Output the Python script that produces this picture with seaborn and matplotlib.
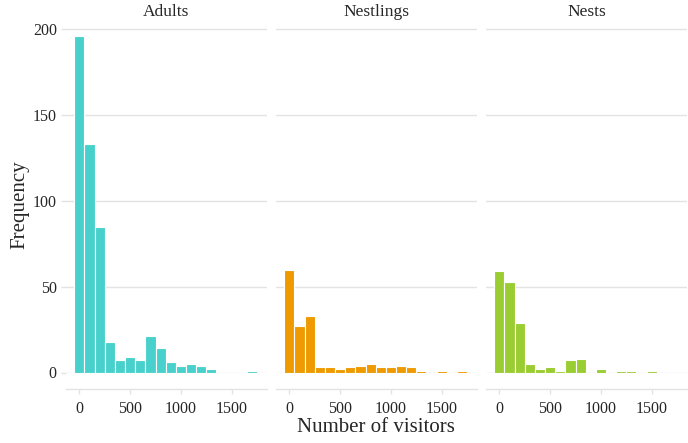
import numpy as np
import pandas as pd
import matplotlib
matplotlib.use("Agg")
import matplotlib.pyplot as plt
import seaborn as sns

# ---- data (bin centers, width 100) ----
bin_centers = [0, 100, 200, 300, 400, 500, 600, 700, 800, 900,
               1000, 1100, 1200, 1300, 1400, 1500, 1600, 1700]
adults = [196, 133, 85, 18, 7, 9, 7, 21, 14, 6, 4, 5, 4, 2, 0, 0, 0, 1]
nestlings = [60, 27, 33, 3, 3, 2, 3, 4, 5, 3, 3, 4, 3, 1, 0, 1, 0, 1]
nests = [59, 53, 29, 5, 2, 3, 1, 7, 8, 0, 2, 0, 1, 1, 0, 1, 0, 0]
groups = ["Adults", "Nestlings", "Nests"]
colors = ["#48D1CC", "#EE9A00", "#9ACD32"]
x_ticks = [0, 500, 1000, 1500]
y_ticks = [0, 50, 100, 150, 200]

df = pd.concat([
    pd.DataFrame({"group": g, "visitors": bin_centers, "count": v})
    for g, v in zip(groups, [adults, nestlings, nests])
], ignore_index=True)

sns.set_theme(style="white")
plt.rcParams["font.family"] = ["Liberation Serif", "DejaVu Serif"]

W, H = 688, 443
fig = plt.figure(figsize=(W / 100, H / 100), dpi=100)

grid_c = "#e3e3e3"
text_c = "#262626"

lefts = [66, 276, 486]
pw = 200.7
top_px, zero_px = 20, 372.5

for i, (g, c) in enumerate(zip(groups, colors)):
    ax = fig.add_axes([lefts[i] / W, (H - zero_px) / H, pw / W, (zero_px - top_px) / H])
    sub = df[df["group"] == g]
    sns.histplot(data=sub, x="visitors", weights="count", binwidth=100,
                 binrange=(-50, 1750),
                 color=c, alpha=1, edgecolor="white", linewidth=0.8, ax=ax)
    ax.set_xlim(-131, 1844)
    ax.set_ylim(0, 205.5)
    ax.set_yticks(y_ticks)
    ax.set_xticks(x_ticks)
    ax.yaxis.grid(True, color=grid_c, linewidth=1.0)
    ax.set_axisbelow(True)
    for s in ["top", "right", "left"]:
        ax.spines[s].set_visible(False)
    ax.spines["bottom"].set_position(("outward", 12.2))
    ax.spines["bottom"].set_color(grid_c)
    ax.spines["bottom"].set_linewidth(1.0)
    ax.tick_params(axis="x", bottom=True, length=3.6, width=1.0, color=grid_c,
                   labelsize=11.5, labelcolor=text_c, pad=5)
    if i == 0:
        ax.tick_params(axis="y", left=True, length=3.6, width=1.0, color=grid_c,
                       labelsize=11.5, labelcolor=text_c, pad=3)
    else:
        ax.tick_params(axis="y", left=False, labelleft=False)
    ax.set_xlabel("")
    ax.set_ylabel("")
    ax.set_title(g, fontsize=12.5, color=text_c, pad=3)

fig.text(376 / W, 1 - 427 / H, "Number of visitors", ha="center", va="center",
         fontsize=15, color=text_c)
fig.text(20 / W, 1 - 205 / H, "Frequency", ha="center", va="center",
         rotation=90, fontsize=15, color=text_c)

fig.savefig("out.png", dpi=100, facecolor="white")
